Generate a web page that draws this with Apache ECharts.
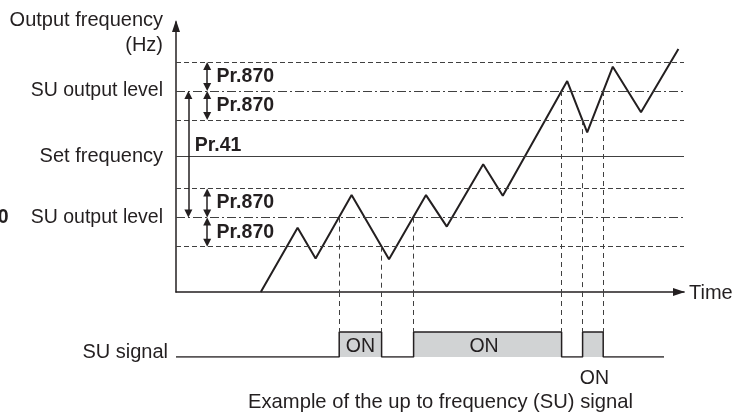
<!DOCTYPE html>
<html><head><meta charset="utf-8">
<script src="https://cdn.jsdelivr.net/npm/echarts@6/dist/echarts.min.js"></script>
<style>html,body{margin:0;padding:0;background:#fff}#c{width:743px;height:415px}</style>
</head><body><div id="c"></div>
<script>
// ---- data (arbitrary time / frequency units) ----
const timePts = [21.2, 30.4, 34.9, 43.9, 53.25, 62.5, 67.7, 76.8, 81.7, 97.8, 102.8, 109.2, 116.25, 125.6];
const freqPts = [0, 21.4, 11.2, 32.3, 10.9, 32.3, 21.8, 42.6, 32.1, 70.3, 53.2, 75.1, 59.9, 81];
const setFreq = 45.1;
const suUpper = 67;
const suLower = 24.8;
const pr870 = 9.7;
const levelLabels = ['SU output level', 'Set frequency', 'SU output level'];
// SU signal switching instants, the level crossed at each, and the state after
const switchTimes = [40.8, 51.4, 59.4, 96.4, 101.65, 106.8];
const switchLevels = [suLower, suLower - pr870, suLower, suUpper, suUpper - pr870, suUpper];
const switchStates = [1, 0, 1, 0, 1, 0];
const signalEnd = 122;
const onLabelTimes = [46.1, 77, 104.6];
const onLabelLevels = [0.4, 0.4, -0.85];
const pr870ArrowTime = 7.8;
const pr41ArrowTime = 3.1;

const FONT = '"Liberation Sans", Arial, Helvetica, sans-serif';
const INK = '#231f20';
const GUIDE = '#404040';
const inset = 4 / 3; // half arrow head in value units

const chart = echarts.init(document.getElementById('c'), null, {renderer: 'canvas'});

const curve = timePts.map((t, i) => [t, freqPts[i]]);
const signal = [[0, 0]];
switchTimes.forEach((t, i) => signal.push([t, switchStates[i]]));
signal.push([signalEnd, 0]);

const dashed = [5, 3];
const dashDot = [9, 3, 2, 3];
const hLines = [
  {yAxis: suUpper + pr870, lineStyle: {type: dashed}},
  {yAxis: suUpper, lineStyle: {type: dashDot}, label: {show: true, formatter: levelLabels[0], fontSize: 19.5}},
  {yAxis: suUpper - pr870, lineStyle: {type: dashed}},
  {yAxis: setFreq, lineStyle: {type: 'solid'}, label: {show: true, formatter: levelLabels[1], fontSize: 20}},
  {yAxis: suLower + pr870, lineStyle: {type: dashed}},
  {yAxis: suLower, lineStyle: {type: dashDot}, label: {show: true, formatter: levelLabels[2], fontSize: 19.5}},
  {yAxis: suLower - pr870, lineStyle: {type: dashed}}
];

const vTop = switchTimes.map((t, i) => [{coord: [t, switchLevels[i]]}, {coord: [t, 0]}]);
const vBot = switchTimes.map(t => [{coord: [t, 2.6]}, {coord: [t, 1]}]);

const bands = [
  [suUpper + pr870, suUpper], [suUpper, suUpper - pr870],
  [suLower + pr870, suLower], [suLower, suLower - pr870]
];
const arrows = bands.map(b => [{coord: [pr870ArrowTime, b[0] - inset]}, {coord: [pr870ArrowTime, b[1] + inset]}]);
arrows.push([{coord: [pr41ArrowTime, suUpper - inset]}, {coord: [pr41ArrowTime, suLower + inset]}]);

const prLabels = bands.map(b => ({value: [pr870ArrowTime + 2.35, (b[0] + b[1]) / 2], name: 'Pr.870'}));
prLabels.push({value: [pr41ArrowTime + 1.6, setFreq + 3.6], name: 'Pr.41'});

const onLabels = onLabelTimes.map((t, i) => ({value: [t, onLabelLevels[i]], name: 'ON'}));

chart.setOption({
  animation: false,
  backgroundColor: '#fff',
  grid: [
    {left: 176, right: 59, top: 22, bottom: 123},
    {left: 176, right: 59, top: 292, bottom: 58}
  ],
  xAxis: [
    {type: 'value', gridIndex: 0, min: 0, max: 127, axisLine: {show: true, lineStyle: {color: INK, width: 1.5}, symbol: ['none', 'triangle'], symbolSize: [8, 12], symbolOffset: [0, -5]}, axisTick: {show: false}, axisLabel: {show: false}, splitLine: {show: false}},
    {type: 'value', gridIndex: 1, min: 0, max: 127, show: false}
  ],
  yAxis: [
    {type: 'value', gridIndex: 0, min: 0, max: 90, axisLine: {show: true, lineStyle: {color: INK, width: 1.5}, symbol: ['none', 'triangle'], symbolSize: [8, 12], symbolOffset: [0, -4]}, axisTick: {show: false}, axisLabel: {show: false}, splitLine: {show: false}},
    {type: 'value', gridIndex: 1, min: 0, max: 2.6, show: false}
  ],
  series: [
    {
      type: 'line', xAxisIndex: 0, yAxisIndex: 0, data: [], silent: true, z: 1,
      markLine: {
        silent: true, symbol: 'none', animation: false,
        lineStyle: {color: GUIDE, width: 1.1},
        label: {show: false, position: 'start', distance: 13, fontFamily: FONT, fontSize: 19.5, color: INK},
        emphasis: {disabled: true},
        data: hLines
      }
    },
    {
      type: 'line', xAxisIndex: 0, yAxisIndex: 0, data: [], silent: true, z: 1,
      markLine: {
        silent: true, symbol: 'none', animation: false,
        lineStyle: {color: GUIDE, width: 1, type: [5, 4]}, label: {show: false},
        emphasis: {disabled: true},
        data: vTop
      }
    },
    {
      type: 'line', xAxisIndex: 1, yAxisIndex: 1, data: [], silent: true, z: 1,
      markLine: {
        silent: true, symbol: 'none', animation: false,
        lineStyle: {color: GUIDE, width: 1, type: [5, 4]}, label: {show: false},
        emphasis: {disabled: true},
        data: vBot
      }
    },
    {
      type: 'line', xAxisIndex: 0, yAxisIndex: 0, data: [], silent: true, z: 3,
      markLine: {
        silent: true, symbol: ['triangle', 'triangle'], symbolSize: [8, 8], animation: false,
        lineStyle: {color: INK, width: 1.5, type: 'solid'}, label: {show: false},
        emphasis: {disabled: true},
        data: arrows
      }
    },
    {
      type: 'line', xAxisIndex: 0, yAxisIndex: 0, data: curve, symbol: 'none', z: 4,
      lineStyle: {color: INK, width: 2}
    },
    {
      type: 'scatter', xAxisIndex: 0, yAxisIndex: 0, data: prLabels, symbolSize: 0, clip: false, z: 5,
      itemStyle: {opacity: 1, color: INK},
      label: {show: true, position: 'right', distance: 0, formatter: p => p.name, fontFamily: FONT, fontSize: 19.5, fontWeight: 'bold', color: INK}
    },
    {
      type: 'line', xAxisIndex: 1, yAxisIndex: 1, data: signal, step: 'end', symbol: 'none', z: 3,
      lineStyle: {color: INK, width: 1.5},
      areaStyle: {color: '#d1d3d4', opacity: 1}
    },
    {
      type: 'scatter', xAxisIndex: 1, yAxisIndex: 1, data: onLabels, symbolSize: 0, clip: false, z: 5,
      itemStyle: {opacity: 1, color: INK},
      label: {show: true, position: 'inside', formatter: p => p.name, fontFamily: FONT, fontSize: 19.5, color: INK}
    }
  ],
  graphic: [
    {type: 'text', x: 163, y: 20, style: {text: 'Output frequency', font: '20px ' + FONT, fill: INK, align: 'right', verticalAlign: 'middle'}},
    {type: 'text', x: 163, y: 45, style: {text: '(Hz)', font: '20px ' + FONT, fill: INK, align: 'right', verticalAlign: 'middle'}},
    {type: 'text', x: 8.5, y: 218, style: {text: '0', font: 'bold 19.5px ' + FONT, fill: INK, align: 'right', verticalAlign: 'middle'}},
    {type: 'text', x: 689, y: 293, style: {text: 'Time', font: '20px ' + FONT, fill: INK, align: 'left', verticalAlign: 'middle'}},
    {type: 'text', x: 168, y: 352, style: {text: 'SU signal', font: '20px ' + FONT, fill: INK, align: 'right', verticalAlign: 'middle'}},
    {type: 'text', x: 440.5, y: 402, style: {text: 'Example of the up to frequency (SU) signal', font: '20.2px ' + FONT, fill: INK, align: 'center', verticalAlign: 'middle'}}
  ]
});
</script>
</body></html>
